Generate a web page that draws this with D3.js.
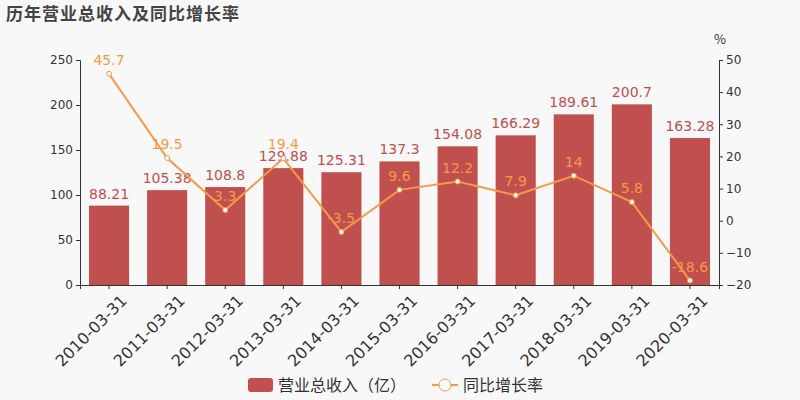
<!DOCTYPE html>
<html><head><meta charset="utf-8">
<script src="https://cdn.jsdelivr.net/npm/d3@7"></script>
<style>body{margin:0;background:#f8f8f8;font-family:"Noto Sans CJK SC","DejaVu Sans",sans-serif}</style>
</head><body>
<svg id="chart" width="800" height="400"></svg>
<script>
// data
var dates = ["2010-03-31","2011-03-31","2012-03-31","2013-03-31","2014-03-31","2015-03-31","2016-03-31","2017-03-31","2018-03-31","2019-03-31","2020-03-31"];
var revenue = [88.21,105.38,108.8,129.88,125.31,137.3,154.08,166.29,189.61,200.7,163.28];
var growth = [45.7,19.5,3.3,19.4,-3.5,9.6,12.2,7.9,14,5.8,-18.6];
var leftTicks = [0,50,100,150,200,250];
var rightTicks = [-20,-10,0,10,20,30,40,50];

var svg = d3.select("#chart");
var barColor = "#c0504d", lineColor = "#f59a4a";

svg.append("rect").attr("width",800).attr("height",400).attr("fill","#f8f8f8");
svg.append("text").attr("x",6).attr("y",20).text("历年营业总收入及同比增长率")
    .attr("font-size",17).attr("font-weight","bold").attr("letter-spacing",1).attr("fill","#444");

var x = d3.scaleBand().domain(dates).range([80,719]).paddingInner(0.31).paddingOuter(0.155);
var y = d3.scaleLinear().domain([0,250]).range([285,60]);
var y2 = d3.scaleLinear().domain([-20,50]).range([285,60]);

var axL = svg.append("g").attr("transform","translate(80,0)").call(d3.axisLeft(y).tickValues(leftTicks).tickSize(4));
var axR = svg.append("g").attr("transform","translate(719,0)").call(d3.axisRight(y2).tickValues(rightTicks).tickSize(4));
var axB = svg.append("g").attr("transform","translate(0,285)").call(d3.axisBottom(x).tickSize(4));
[axL,axR,axB].forEach(function(a){
    a.selectAll("path,line").attr("stroke","#333");
    a.selectAll("text").attr("fill","#333").attr("font-size",12).attr("font-family","DejaVu Sans");
});
axB.selectAll("text").attr("font-size",16).attr("text-anchor","end")
    .attr("transform","translate(6,4) rotate(-45)").attr("dx","0").attr("dy","0.7em");
svg.append("text").attr("x",720).attr("y",44).text("%").attr("font-size",13).attr("text-anchor","middle").attr("fill","#333");

svg.selectAll(".bar").data(revenue).enter().append("rect")
    .attr("x",function(d,i){return x(dates[i]);})
    .attr("y",function(d){return y(d);})
    .attr("width",x.bandwidth()).attr("height",function(d){return 285-y(d);})
    .attr("fill",barColor);
svg.selectAll(".blab").data(revenue).enter().append("text")
    .attr("x",function(d,i){return x(dates[i])+x.bandwidth()/2;})
    .attr("y",function(d){return y(d)-7;})
    .attr("text-anchor","middle").attr("font-size",14).attr("fill",barColor)
    .attr("font-family","DejaVu Sans").text(function(d){return d;});

var line = d3.line().x(function(d,i){return x(dates[i])+x.bandwidth()/2;}).y(function(d){return y2(d);});
svg.append("path").datum(growth).attr("d",line).attr("fill","none").attr("stroke",lineColor).attr("stroke-width",2);
svg.selectAll(".pt").data(growth).enter().append("circle")
    .attr("cx",function(d,i){return x(dates[i])+x.bandwidth()/2;})
    .attr("cy",function(d){return y2(d);}).attr("r",2.5)
    .attr("fill","#fff").attr("stroke",lineColor);
svg.selectAll(".llab").data(growth).enter().append("text")
    .attr("x",function(d,i){return x(dates[i])+x.bandwidth()/2;})
    .attr("y",function(d){return y2(d)-9;})
    .attr("text-anchor","middle").attr("font-size",14).attr("fill",lineColor)
    .attr("font-family","DejaVu Sans").text(function(d){return d;});

// legend
var lg = svg.append("g").attr("transform","translate(248,385)");
lg.append("rect").attr("x",0).attr("y",-7).attr("width",25).attr("height",14).attr("rx",3).attr("fill",barColor);
lg.append("text").attr("x",30).attr("y",6).text("营业总收入（亿）").attr("font-size",16).attr("fill","#333");
lg.append("line").attr("x1",184).attr("x2",210).attr("y1",0).attr("y2",0).attr("stroke",lineColor).attr("stroke-width",2);
lg.append("circle").attr("cx",197).attr("cy",0).attr("r",6).attr("fill","#fff").attr("stroke",lineColor);
lg.append("text").attr("x",215).attr("y",6).text("同比增长率").attr("font-size",16).attr("fill","#333");
</script>
</body></html>
